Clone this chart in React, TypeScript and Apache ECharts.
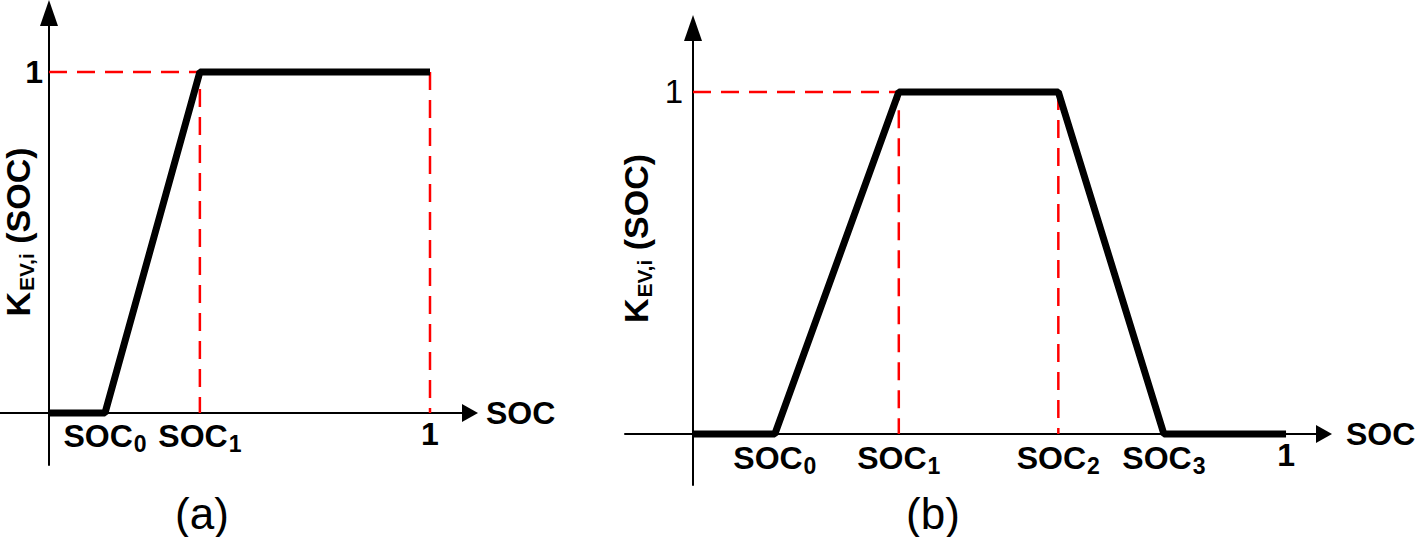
import React, { useEffect, useRef } from "react";
import * as echarts from "echarts";

const FONT = "'Liberation Sans', Arial, sans-serif";

// ---------- Panel (a) ----------
const aSOC0 = 0.147;
const aSOC1 = 0.396;
const aCurveX = [0, aSOC0, aSOC1, 1];
const aCurveY = [0, 0, 1, 1];
const aTickValues = [aSOC0, aSOC1, 1];
const aTickLabels = ["{m|SOC}{s|0}", "{m|SOC}{s|1}", "{m|1}"];
const aYTickValues = [1];
const aYTickLabels = ["{m|1}"];
const aXRange = [-0.1286, 1.105];
const aYRange = [-0.1525, 1.173];

// ---------- Panel (b) ----------
const bSOC0 = 0.138;
const bSOC1 = 0.347;
const bSOC2 = 0.616;
const bSOC3 = 0.794;
const bCurveX = [0, bSOC0, bSOC1, bSOC2, bSOC3, 1];
const bCurveY = [0, 0, 1, 1, 0, 0];
const bTickValues = [bSOC0, bSOC1, bSOC2, bSOC3, 1];
const bTickLabels = ["{m|SOC}{s|0}", "{m|SOC}{s|1}", "{m|SOC}{s|2}", "{m|SOC}{s|3}", "{m|1}"];
const bYTickValues = [1];
const bYTickLabels = ["{r|1}"];
const bXRange = [-0.1147, 1.064];
const bYRange = [-0.149, 1.187];

const AXIS_NAME_X = "SOC";
const AXIS_NAME_Y = "{k|K}{e|EV,i}{k| (SOC)}";

const richLabels = {
  m: { fontSize: 32, fontWeight: "bold", fontFamily: FONT, color: "#000", lineHeight: 34 },
  s: { fontSize: 23, fontWeight: "bold", fontFamily: FONT, color: "#000", padding: [16, 0, 0, 1], verticalAlign: "bottom" },
  r: { fontSize: 33, fontWeight: "normal", fontFamily: FONT, color: "#000", lineHeight: 34 },
};
const richName = {
  k: { fontSize: 34, fontWeight: "bold", fontFamily: FONT, color: "#000", lineHeight: 38 },
  e: { fontSize: 21, fontWeight: "bold", fontFamily: FONT, color: "#000", padding: [14, 0, 0, 1], verticalAlign: "bottom" },
};

const pick = (vals: number[], labels: string[]) => (v: number) => {
  const i = vals.findIndex((x) => Math.abs(x - v) < 1e-6);
  return i >= 0 ? labels[i] : "";
};

const zip = (xs: number[], ys: number[]) => xs.map((x, i) => [x, ys[i]]);

type Grid = { left: number; top: number; width: number; height: number };

function xAxisCfg(gridIndex: number, g: Grid, xr: number[], yr: number[], vals: number[], labels: string[], margin: number, nameGap: number, arrow: number[]) {
  const zeroFromBottom = (g.height * (0 - yr[0])) / (yr[1] - yr[0]);
  return {
    type: "value",
    gridIndex,
    position: "bottom",
    offset: -zeroFromBottom,
    min: xr[0],
    max: xr[1],
    name: AXIS_NAME_X,
    nameLocation: "end",
    nameGap,
    nameMoveOverlap: false,
    nameTextStyle: { fontSize: 32, fontWeight: "bold", fontFamily: FONT, color: "#000", verticalAlign: "middle" },
    axisLine: {
      show: true,
      onZero: false,
      symbol: ["none", "triangle"],
      symbolSize: arrow,
      lineStyle: { color: "#000", width: 2 },
    },
    axisTick: { show: false },
    splitLine: { show: false },
    axisLabel: {
      show: true,
      customValues: vals,
      formatter: pick(vals, labels),
      margin,
      rich: richLabels,
    },
  };
}

function yAxisCfg(gridIndex: number, g: Grid, xr: number[], yr: number[], vals: number[], labels: string[], margin: number, nameGap: number, arrow: number[], shiftUp: number) {
  const zeroFromLeft = (g.width * (0 - xr[0])) / (xr[1] - xr[0]);
  return {
    type: "value",
    gridIndex,
    position: "left",
    offset: -zeroFromLeft,
    min: yr[0],
    max: yr[1],
    name: AXIS_NAME_Y,
    nameLocation: "middle",
    nameRotate: 90,
    nameGap,
    nameMoveOverlap: false,
    nameTextStyle: { rich: richName, padding: [0, 0, 0, shiftUp * 2] },
    axisLine: {
      show: true,
      onZero: false,
      symbol: ["none", "triangle"],
      symbolSize: arrow,
      lineStyle: { color: "#000", width: 2 },
    },
    axisTick: { show: false },
    splitLine: { show: false },
    axisLabel: {
      show: true,
      customValues: vals,
      formatter: pick(vals, labels),
      margin,
      rich: richLabels,
    },
  };
}

export default function App() {
  const ref = useRef<HTMLDivElement>(null);

  useEffect(() => {
    if (!ref.current) return;
    const chart = echarts.init(ref.current, undefined, { renderer: "svg" });

    const dashStyle = { color: "#ff0000", width: 2.5, type: [18, 10] };
    const curveStyle = { color: "#000", width: 7 };
    const gA: Grid = { left: 0, top: 13, width: 470, height: 452 };
    const gB: Grid = { left: 625, top: 28, width: 699, height: 457 };

    const option = {
      animation: false,
      backgroundColor: "#fff",
      grid: [
        { ...gA, containLabel: false, outerBoundsMode: "none" },
        { ...gB, containLabel: false, outerBoundsMode: "none" },
      ],
      xAxis: [
        xAxisCfg(0, gA, aXRange, aYRange, aTickValues, aTickLabels, 4, 16, [18, 16]),
        xAxisCfg(1, gB, bXRange, bYRange, bTickValues, bTickLabels, 4, 22, [18, 16]),
      ],
      yAxis: [
        yAxisCfg(0, gA, aXRange, aYRange, aYTickValues, aYTickLabels, 6, 12, [18, 26], 7),
        yAxisCfg(1, gB, bXRange, bYRange, bYTickValues, bYTickLabels, 10, 38, [18, 26], 18),
      ],
      graphic: [
        { type: "text", x: 202, y: 513, style: { text: "(a)", fontSize: 44, fontFamily: FONT, fill: "#000", align: "center", verticalAlign: "middle" } },
        { type: "text", x: 933, y: 513, style: { text: "(b)", fontSize: 44, fontFamily: FONT, fill: "#000", align: "center", verticalAlign: "middle" } },
      ],
      series: [
        {
          type: "line",
          xAxisIndex: 0,
          yAxisIndex: 0,
          symbol: "none",
          lineStyle: dashStyle,
          data: [[0, 1], [aSOC1, 1], [aSOC1, 0], "-", [1, 1], [1, 0]],
          connectNulls: false,
          z: 1,
        },
        {
          type: "line",
          xAxisIndex: 0,
          yAxisIndex: 0,
          symbol: "none",
          lineStyle: curveStyle,
          data: zip(aCurveX, aCurveY),
          z: 3,
        },
        {
          type: "line",
          xAxisIndex: 1,
          yAxisIndex: 1,
          symbol: "none",
          lineStyle: dashStyle,
          data: [[0, 1], [bSOC1, 1], [bSOC1, 0], "-", [bSOC2, 1], [bSOC2, 0]],
          connectNulls: false,
          z: 1,
        },
        {
          type: "line",
          xAxisIndex: 1,
          yAxisIndex: 1,
          symbol: "none",
          lineStyle: curveStyle,
          data: zip(bCurveX, bCurveY),
          z: 3,
        },
      ],
    };

    chart.setOption(option as any);
    return () => chart.dispose();
  }, []);

  return (
    <div
      ref={ref}
      style={{ position: "absolute", left: 0, top: 0, width: 1418, height: 537, background: "#fff" }}
    />
  );
}
